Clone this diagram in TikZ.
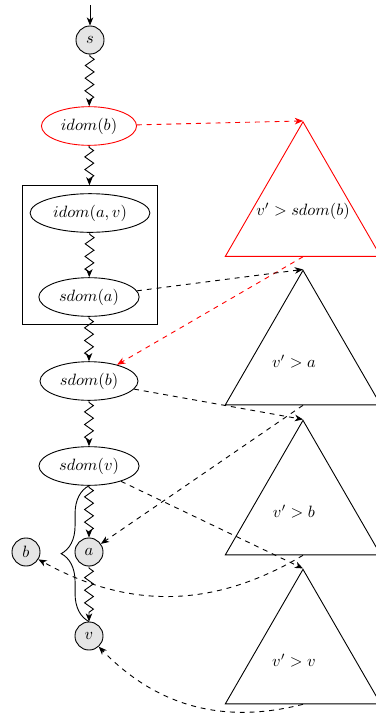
\documentclass[tikz,border=0pt]{standalone}
\usetikzlibrary{arrows.meta,shapes.geometric,decorations.pathmorphing,decorations.pathreplacing,fit}

\tikzset{
  tip/.tip={Stealth[length=5pt,width=4pt,inset=1.5pt]},
  vert/.style={circle,draw,fill=black!10,minimum size=17.1pt,inner sep=0pt},
  dom/.style={ellipse,draw},
  subtree/.style={regular polygon,regular polygon sides=3,draw,minimum size=109.4pt,inner sep=0pt},
  wavy/.style={-tip,decorate,decoration={zigzag,segment length=7.7pt,amplitude=2.7pt,pre length=1pt,post length=3pt}},
  jump/.style={-tip,dashed},
  grp/.style={draw,rectangle,inner sep=4.6pt}
}

\begin{document}
\begin{tikzpicture}[x=0.61pt,y=-0.61pt,line width=0.55pt]
  \useasboundingbox (0,0) rectangle (375,713);

  % dominator chain
  \coordinate (entry) at (90,5);
  \node[vert] (s) at (90,40) {$s$};
  \node[dom,draw=red] (idomb) at (89,126) {$idom(b)$};
  \node[dom] (idomav) at (90,213) {$idom(a,v)$};
  \node[dom] (sdoma) at (89,297) {$sdom(a)$};
  \node[grp,fit=(idomav)(sdoma)] (box) {};
  \node[dom] (sdomb) at (89,381) {$sdom(b)$};
  \node[dom] (sdomv) at (89,466) {$sdom(v)$};
  \node[vert] (a) at (89,552) {$a$};
  \node[vert] (b) at (26,552) {$b$};
  \node[vert] (v) at (89,636) {$v$};

  % subtrees
  \node[subtree,draw=red] (t1) at (303,211.5) {};
  \node[subtree] (t2) at (303,360) {};
  \node[subtree] (t3) at (303,510) {};
  \node[subtree] (t4) at (303,659) {};
  \node (l1) at (303,211) {$v' > sdom(b)$};
  \node (l2) at (294,362) {$v' > a$};
  \node (l3) at (294,512) {$v' > b$};
  \node (l4) at (294,661) {$v' > v$};

  % tree paths
  \draw[-tip] (entry) -- (s);
  \draw[wavy] (s) -- (idomb);
  \draw[wavy] (idomb) -- (box);
  \draw[wavy] (idomav) -- (sdoma);
  \draw[wavy] (sdoma) -- (sdomb);
  \draw[wavy] (sdomb) -- (sdomv);
  \draw[wavy] (sdomv) -- (a);
  \draw[wavy] (a) -- (v);

  % brace over the path from sdom(v) to v
  \draw[decorate,decoration={brace,amplitude=17pt}] (v.north) -- (sdomv.south);

  % links to and from subtrees
  \draw[jump,red] (idomb) -- (t1.corner 1);
  \draw[jump,red] (t1.side 2) -- (sdomb);
  \draw[jump] (sdoma) -- (t2.corner 1);
  \draw[jump] (sdomb) -- (t3.corner 1);
  \draw[jump] (t2.side 2) -- (a);
  \draw[jump] (sdomv) -- (t4.corner 1);
  \draw[jump] (t3.side 2) to[bend left=30] (b);
  \draw[jump] (t4.side 2) to[bend left=30] (v);
\end{tikzpicture}
\end{document}
